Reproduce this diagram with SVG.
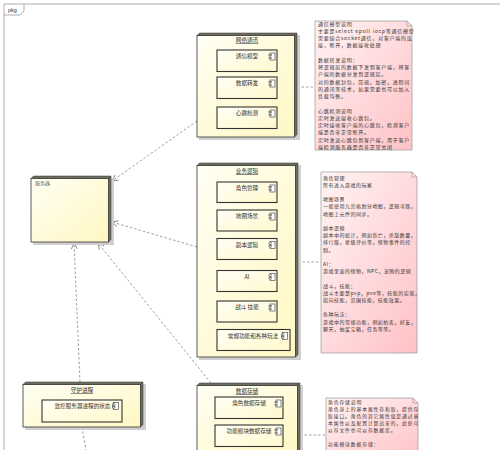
<svg xmlns="http://www.w3.org/2000/svg" width="500" height="450" viewBox="0 0 500 450">
<style>
.t{font-family:"Noto Sans CJK SC","Noto Sans",sans-serif;font-size:5.6px;fill:#333}
.nt{font-family:"Noto Sans CJK SC","Noto Sans",sans-serif;font-size:5px;letter-spacing:0.75px;fill:#333}
.tt{font-family:"Noto Sans CJK SC","Noto Sans",sans-serif;font-size:5.6px;fill:#333;text-decoration:underline}
.front{fill:url(#ng);stroke:#333;stroke-width:0.8}
.face{fill:#6e6e60;stroke:#333;stroke-width:0.5}
.shadow{fill:#cfcfcf}
.comp{fill:url(#cg);stroke:#333;stroke-width:1.1}
.note{fill:url(#pg);stroke:#999;stroke-width:0.7}
.con{fill:none;stroke:#888;stroke-width:0.8;stroke-dasharray:2.5,2}
.ah{fill:none;stroke:#777;stroke-width:0.8}
</style>
<defs>
<linearGradient id="ng" x1="0" y1="0" x2="1" y2="1">
<stop offset="0" stop-color="#FFFFF4"/><stop offset="1" stop-color="#FFF7C2"/>
</linearGradient>
<linearGradient id="cg" x1="0" y1="0" x2="1" y2="1">
<stop offset="0" stop-color="#FFFFF6"/><stop offset="1" stop-color="#FFF8CC"/>
</linearGradient>
<linearGradient id="pg" x1="0" y1="0" x2="1" y2="1">
<stop offset="0" stop-color="#FFF4F4"/><stop offset="1" stop-color="#FFC2C6"/>
</linearGradient>
<marker id="arr" markerWidth="8" markerHeight="8" refX="7" refY="4" orient="auto" markerUnits="userSpaceOnUse">
<path d="M1,1 L7,4 L1,7" class="ah"/>
</marker>
<g id="icon">
<rect x="1" y="0" width="5" height="7" fill="#fff" stroke="#333" stroke-width="0.6"/>
<rect x="0" y="1.5" width="2.5" height="1.3" fill="#fff" stroke="#333" stroke-width="0.5"/>
<rect x="0" y="4.2" width="2.5" height="1.3" fill="#fff" stroke="#333" stroke-width="0.5"/>
</g>
</defs>
<rect width="500" height="450" fill="#fff"/>

<g id="frame">
<path d="M4,450 L4,4 L500,4" fill="none" stroke="#999" stroke-width="0.8"/>
<path d="M4,15 L20,15 L24,11 L24,4" fill="none" stroke="#999" stroke-width="0.8"/>
<text x="8" y="12" style="font-family:'Liberation Sans',sans-serif;font-size:5.5px;fill:#333">pkg</text>
</g>

<g id="connectors">
<path class="con" d="M197,121 L112,181" marker-end="url(#arr)"/>
<path class="con" d="M197,247 L112,222" marker-end="url(#arr)"/>
<path class="con" d="M211,383 L98,243" marker-end="url(#arr)"/>
<path class="con" d="M80,382 L74,243" marker-end="url(#arr)"/>
<path class="con" d="M82,427 L86,450"/>
<path class="con" d="M297,87 L315,87"/>
<path class="con" d="M298,262 L321,262"/>
<path class="con" d="M300,435 L326,435"/>
</g>

<g id="server">
<rect class="shadow" x="33" y="178" width="81" height="67"/>
<rect class="front" x="31" y="178.5" width="77.5" height="63.5"/>
<polygon class="face" points="31,178.5 33.5,176 111,176 108.5,178.5"/>
<polygon class="face" points="108.5,178.5 111,176 111,239.5 108.5,242"/>
<text x="35" y="185" style="font-family:'Noto Sans CJK SC',sans-serif;font-size:5px;fill:#666">服务器</text>
</g>

<g id="net">
<rect class="shadow" x="199" y="35" width="101" height="105"/>
<rect class="front" x="197" y="35.5" width="97.5" height="101.5"/>
<polygon class="face" points="197,35.5 199.5,33 297,33 294.5,35.5"/>
<polygon class="face" points="294.5,35.5 297,33 297,134.5 294.5,137"/>
<text class="tt" x="247" y="42" text-anchor="middle">网络通讯</text>
<rect class="comp" x="217" y="50" width="60" height="21.5"/>
<text class="t" x="247" y="58" text-anchor="middle">通信模型</text>
<use href="#icon" x="269" y="53"/>
<rect class="comp" x="217" y="77" width="60" height="21.5"/>
<text class="t" x="247" y="85" text-anchor="middle">数据转发</text>
<use href="#icon" x="269" y="80"/>
<rect class="comp" x="217" y="107" width="60" height="21.5"/>
<text class="t" x="247" y="115" text-anchor="middle">心跳检测</text>
<use href="#icon" x="269" y="110"/>
</g>

<g id="note1">
<path class="note" d="M315,21 L407,21 L412,26 L412,150 L315,150 Z"/>
<path d="M407,21 L407,26 L412,26" fill="none" stroke="#999" stroke-width="0.6"/>
<text class="nt">
<tspan x="318" y="25.5">通信模型说明</tspan>
<tspan x="318" y="32.75">主要是select epoll iocp等通信模型</tspan>
<tspan x="318" y="40">需要结合socket通信，对客户端的连</tspan>
<tspan x="318" y="47.25">接，断开，数据接收处理</tspan>
<tspan x="318" y="61.75">数据转发说明：</tspan>
<tspan x="318" y="69">将逻辑层的数据下发到客户端，将客</tspan>
<tspan x="318" y="76.25">户端的数据分发到逻辑层。</tspan>
<tspan x="318" y="83.5">对的数据封包，压缩，加密，进程间</tspan>
<tspan x="318" y="90.75">的通讯等技术，如果需要也可以加入</tspan>
<tspan x="318" y="98">负载均衡。</tspan>
<tspan x="318" y="112.5">心跳检测说明</tspan>
<tspan x="318" y="119.75">定时发送接收心跳包。</tspan>
<tspan x="318" y="127">定时接收客户端的心跳包，检测客户</tspan>
<tspan x="318" y="134.25">端是否非正常断开。</tspan>
<tspan x="318" y="141.5">定时发送心跳包到客户端，用于客户</tspan>
<tspan x="318" y="148.75">端检测服务器是否非正常关闭</tspan>
</text>
</g>

<g id="biz">
<rect class="shadow" x="199" y="165" width="102" height="195"/>
<rect class="front" x="197" y="165.5" width="98.5" height="191.5"/>
<polygon class="face" points="197,165.5 199.5,163 298,163 295.5,165.5"/>
<polygon class="face" points="295.5,165.5 298,163 298,354.5 295.5,357"/>
<text class="tt" x="247" y="173" text-anchor="middle">业务逻辑</text>
<rect class="comp" x="217" y="182" width="60" height="20.5"/>
<text class="t" x="247" y="190" text-anchor="middle">角色管理</text>
<use href="#icon" x="269" y="185"/>
<rect class="comp" x="217" y="210" width="60" height="21"/>
<text class="t" x="247" y="218" text-anchor="middle">地图场景</text>
<use href="#icon" x="269" y="213"/>
<rect class="comp" x="217" y="238.5" width="60" height="21"/>
<text class="t" x="247" y="246.5" text-anchor="middle">副本逻辑</text>
<use href="#icon" x="269" y="241.5"/>
<rect class="comp" x="217" y="270.5" width="60" height="21"/>
<text class="t" x="247" y="278.5" text-anchor="middle">AI</text>
<use href="#icon" x="269" y="273.5"/>
<rect class="comp" x="217" y="301" width="60" height="21"/>
<text class="t" x="247" y="309" text-anchor="middle">战斗 技能</text>
<use href="#icon" x="269" y="304"/>
<rect class="comp" x="217" y="329.5" width="73" height="21"/>
<text class="t" x="253" y="337.5" text-anchor="middle">常规功能和各种玩法</text>
<use href="#icon" x="281.5" y="332.5"/>
</g>

<g id="note2">
<path class="note" d="M321,172 L412,172 L417,177 L417,353 L321,353 Z"/>
<path d="M412,172 L412,177 L417,177" fill="none" stroke="#999" stroke-width="0.6"/>
<text class="nt" style="font-size:4.95px;letter-spacing:0.55px">
<tspan x="323" y="179.5">角色管理</tspan>
<tspan x="323" y="186.7">所有进入游戏的玩家</tspan>
<tspan x="323" y="201.1">地图场景</tspan>
<tspan x="323" y="208.3">一般使用九宫格划分地图，逻辑寻路，</tspan>
<tspan x="323" y="215.5">地图上元件的同步。</tspan>
<tspan x="323" y="229.9">副本逻辑</tspan>
<tspan x="323" y="237.1">副本中的统计，例如伤亡，杀敌数量，</tspan>
<tspan x="323" y="244.3">排行版，星级评价等，怪物事件的控</tspan>
<tspan x="323" y="251.5">制。</tspan>
<tspan x="323" y="265.9">AI：</tspan>
<tspan x="323" y="273.1">游戏里面的怪物，NPC，宠物的逻辑</tspan>
<tspan x="323" y="287.5">战斗，技能：</tspan>
<tspan x="323" y="294.7">战斗主要是pvp，pve等，技能的实现，</tspan>
<tspan x="323" y="301.9">指向技能，范围技能，技能效果。</tspan>
<tspan x="323" y="316.3">各种玩法：</tspan>
<tspan x="323" y="323.5">游戏中的常规功能，例如拍卖，好友，</tspan>
<tspan x="323" y="330.7">聊天，抽奖宝箱，任务等等。</tspan>
</text>
</g>

<g id="daemon">
<rect class="shadow" x="25" y="384" width="121" height="46"/>
<rect class="front" x="23" y="384.5" width="117.5" height="42.5"/>
<polygon class="face" points="23,384.5 25.5,382 143,382 140.5,384.5"/>
<polygon class="face" points="140.5,384.5 143,382 143,424.5 140.5,427"/>
<text class="tt" x="82" y="392" text-anchor="middle">守护进程</text>
<rect class="comp" x="42" y="400" width="80" height="22"/>
<text class="t" x="82.5" y="407.5" text-anchor="middle">监控服务器进程的状态</text>
<use href="#icon" x="112.5" y="402.5"/>
</g>

<g id="data">
<rect class="shadow" x="199" y="385" width="104" height="70"/>
<rect class="front" x="197" y="385.5" width="100.5" height="70"/>
<polygon class="face" points="197,385.5 199.5,383 300,383 297.5,385.5"/>
<polygon class="face" points="297.5,385.5 300,383 300,455 297.5,455"/>
<text class="tt" x="247" y="393" text-anchor="middle">数据存储</text>
<rect class="comp" x="215" y="397" width="68" height="21.5"/>
<text class="t" x="249" y="405" text-anchor="middle">角色数据存储</text>
<use href="#icon" x="275" y="400"/>
<rect class="comp" x="215" y="425" width="68" height="21.5"/>
<text class="t" x="249" y="433" text-anchor="middle">功能模块数据存储</text>
<use href="#icon" x="275" y="428"/>
</g>

<g id="note3">
<path class="note" d="M326,398 L413,398 L418,403 L418,460 L326,460 Z"/>
<path d="M413,398 L413,403 L418,403" fill="none" stroke="#999" stroke-width="0.6"/>
<text class="nt" style="font-size:4.8px;letter-spacing:0.9px">
<tspan x="328" y="404">角色存储说明</tspan>
<tspan x="328" y="411">角色身上的基本属性存和取，提供存</tspan>
<tspan x="328" y="418">取接口。角色的其它属性值是通过基</tspan>
<tspan x="328" y="425">本属性以及配置计算出来的，此处可</tspan>
<tspan x="328" y="432">以存文件也可以存数据库。</tspan>
<tspan x="328" y="446">功能模块数据存储：</tspan>
</text>
</g>
</svg>
